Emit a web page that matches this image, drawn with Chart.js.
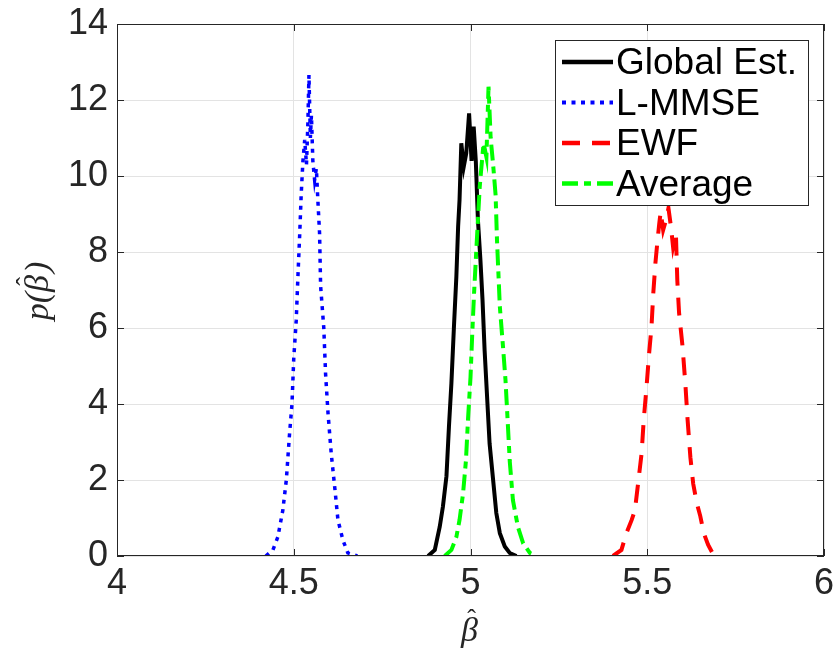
<!DOCTYPE html>
<html>
<head>
<meta charset="utf-8">
<script src="https://cdn.jsdelivr.net/npm/chart.js@4.4.0/dist/chart.umd.min.js"></script>
<style>
  body { margin: 0; background: #fff; }
</style>
</head>
<body>
<canvas id="myChart" width="835" height="652"></canvas>
<script>
// Series (beta-hat, density)
globalX = [4.880, 4.899, 4.913, 4.922, 4.932, 4.939, 4.946, 4.953, 4.960, 4.965, 4.969, 4.974, 4.981, 4.988, 4.996, 5.003, 5.009, 5.015, 5.021, 5.028, 5.034, 5.040, 5.048, 5.054, 5.064, 5.073, 5.083, 5.097, 5.111, 5.130];
globalY = [0, 0.16, 0.77, 1.3, 2.1, 3.4, 4.55, 6.0, 7.35, 8.67, 9.37, 10.86, 10.25, 10.6, 11.65, 10.4, 11.3, 10.4, 8.84, 7.8, 6.74, 5.4, 4.0, 2.96, 2.0, 1.13, 0.6, 0.25, 0.08, 0];

lmmseX = [4.421, 4.441, 4.455, 4.469, 4.479, 4.488, 4.495, 4.500, 4.507, 4.512, 4.517, 4.521, 4.526, 4.531, 4.536, 4.540, 4.543, 4.547, 4.550, 4.554, 4.559, 4.564, 4.568, 4.573, 4.576, 4.585, 4.590, 4.597, 4.606, 4.616, 4.625, 4.639, 4.653, 4.680];
lmmseY = [0, 0.16, 0.5, 1.2, 2.0, 3.2, 4.0, 5.2, 6.2, 7.4, 8.5, 9.5, 10.4, 10.95, 10.3, 11.4, 12.66, 11.0, 11.6, 10.4, 9.9, 10.2, 9.4, 8.5, 7.1, 6.0, 4.8, 3.75, 2.7, 1.8, 0.95, 0.42, 0.08, 0];

ewfX = [5.403, 5.427, 5.441, 5.456, 5.465, 5.474, 5.484, 5.490, 5.498, 5.505, 5.512, 5.517, 5.523, 5.529, 5.534, 5.538, 5.545, 5.553, 5.560, 5.567, 5.573, 5.581, 5.585, 5.590, 5.600, 5.608, 5.614, 5.622, 5.630, 5.640, 5.650, 5.660, 5.672, 5.686];
ewfY = [0, 0.16, 0.6, 0.95, 1.2, 1.9, 2.7, 3.58, 4.45, 5.3, 6.03, 6.9, 7.7, 8.3, 8.75, 9.06, 8.58, 8.84, 9.15, 8.67, 8.14, 8.5, 7.26, 6.4, 5.5, 4.5, 3.6, 2.6, 1.9, 1.4, 1.05, 0.6, 0.3, 0.05];

avgX = [4.927, 4.946, 4.960, 4.969, 4.979, 4.987, 4.993, 5.000, 5.005, 5.010, 5.016, 5.021, 5.026, 5.031, 5.037, 5.045, 5.051, 5.057, 5.064, 5.071, 5.075, 5.083, 5.092, 5.099, 5.105, 5.111, 5.120, 5.134, 5.149, 5.168, 5.185];
avgY = [0, 0.16, 0.5, 0.95, 1.65, 2.5, 3.6, 4.7, 5.86, 6.9, 7.97, 8.84, 9.7, 10.25, 10.86, 10.5, 12.35, 11.0, 10.3, 9.5, 8.3, 6.56, 5.5, 4.63, 3.58, 2.5, 1.47, 0.77, 0.33, 0.08, 0];

seriesNames = ['Global Est.', 'L-MMSE', 'EWF', 'Average'];
xTicks = [4, 4.5, 5, 5.5, 6];
yTicks = [0, 2, 4, 6, 8, 10, 12, 14];

function pts(xs, ys) {
  var out = [];
  for (var i = 0; i < xs.length; i++) out.push({x: xs[i], y: ys[i]});
  return out;
}

const AXIS_COLOR = '#262626';
const SERIF = 'italic 34px "Liberation Serif", "DejaVu Serif", serif';

// draws beta with a hat starting at x (left aligned), returns advance width
function betaHat(ctx, x, y) {
  var w = ctx.measureText('\u03B2').width;
  ctx.fillText('\u03B2', x, y);
  ctx.save();
  ctx.font = '26px "Liberation Serif", "DejaVu Serif", serif';
  ctx.textAlign = 'center';
  ctx.fillText('\u02C6', x + w * 0.62, y - 14);
  ctx.restore();
  return w;
}

// box, inward ticks, axis labels and legend, MATLAB style
const matlabPlugin = {
  id: 'matlab',
  afterDatasetsDraw(chart) {
    const ctx = chart.ctx;
    const a = chart.chartArea;
    const xs = chart.scales.x, ys = chart.scales.y;
    ctx.save();
    ctx.strokeStyle = AXIS_COLOR;
    ctx.lineWidth = 1;
    ctx.strokeRect(a.left + 0.5, a.top + 0.5, a.right - a.left - 1, a.bottom - a.top - 1);
    ctx.beginPath();
    xTicks.forEach(function(v) {
      var px = Math.round(xs.getPixelForValue(v)) + 0.5;
      ctx.moveTo(px, a.bottom); ctx.lineTo(px, a.bottom - 7);
      ctx.moveTo(px, a.top); ctx.lineTo(px, a.top + 7);
    });
    yTicks.forEach(function(v) {
      var py = Math.round(ys.getPixelForValue(v)) + 0.5;
      ctx.moveTo(a.left, py); ctx.lineTo(a.left + 7, py);
      ctx.moveTo(a.right, py); ctx.lineTo(a.right - 7, py);
    });
    ctx.stroke();

    // axis titles
    ctx.fillStyle = AXIS_COLOR;
    ctx.font = SERIF;
    ctx.textAlign = 'left';
    ctx.textBaseline = 'alphabetic';
    betaHat(ctx, 461, 641);

    ctx.save();
    ctx.translate(48, 292);
    ctx.rotate(-Math.PI / 2);
    var w1 = ctx.measureText('p(').width;
    var wb = ctx.measureText('\u03B2').width;
    var w2 = ctx.measureText(')').width;
    var x0 = -(w1 + wb + w2) / 2;
    ctx.fillText('p(', x0, 0);
    betaHat(ctx, x0 + w1, 0);
    ctx.fillText(')', x0 + w1 + wb + 2, 0);
    ctx.restore();

    // legend
    const lx = 555, ly = 40, lw = 253, lh = 165;
    ctx.fillStyle = '#ffffff';
    ctx.fillRect(lx, ly, lw, lh);
    ctx.strokeStyle = AXIS_COLOR;
    ctx.lineWidth = 1;
    ctx.strokeRect(lx + 0.5, ly + 0.5, lw, lh);
    ctx.font = '37px "Liberation Sans", Arial, sans-serif';
    seriesNames.forEach(function(name, i) {
      var ds = chart.data.datasets.find(function(d) { return d.label === name; });
      var cy = 62 + i * 40.5;
      ctx.beginPath();
      ctx.strokeStyle = ds.borderColor;
      ctx.lineWidth = ds.borderWidth + 0.5;
      ctx.setLineDash(ds.borderDash || []);
      ctx.moveTo(562, cy);
      ctx.lineTo(613, cy);
      ctx.stroke();
      ctx.setLineDash([]);
      ctx.fillStyle = '#000000';
      ctx.fillText(name, 616, cy + 12);
    });
    ctx.restore();
  }
};

const data = {
  datasets: [
    {
      label: 'Global Est.',
      data: pts(globalX, globalY),
      borderColor: '#000000',
      borderWidth: 4,
      order: 4
    },
    {
      label: 'L-MMSE',
      data: pts(lmmseX, lmmseY),
      borderColor: '#0000ff',
      borderWidth: 3.5,
      borderDash: [4, 5.5],
      order: 3
    },
    {
      label: 'EWF',
      data: pts(ewfX, ewfY),
      borderColor: '#ff0000',
      borderWidth: 4,
      borderDash: [18, 12],
      order: 2
    },
    {
      label: 'Average',
      data: pts(avgX, avgY),
      borderColor: '#00ff00',
      borderWidth: 4,
      borderDash: [16, 6, 7, 6],
      order: 1
    }
  ]
};

const tickFont = { family: '"Liberation Sans", Arial, sans-serif', size: 36 };

const config = {
  type: 'line',
  data: data,
  options: {
    responsive: false,
    animation: false,
    devicePixelRatio: 1,
    layout: { padding: { top: 24, right: 11, left: 0, bottom: 0 } },
    elements: { point: { radius: 0 }, line: { tension: 0, fill: false } },
    plugins: {
      legend: { display: false },
      tooltip: { enabled: false }
    },
    scales: {
      x: {
        type: 'linear',
        min: 4, max: 6,
        afterFit: function(s) { s.height = 96; s.paddingRight = 0; s.paddingLeft = 0; },
        afterBuildTicks: function(s) { s.ticks = xTicks.map(function(v) { return {value: v}; }); },
        grid: { color: '#e3e3e3', drawTicks: false },
        border: { display: false },
        ticks: { color: AXIS_COLOR, font: tickFont, padding: 6, maxRotation: 0, callback: function(v) { return String(v); } }
      },
      y: {
        min: 0, max: 14,
        afterFit: function(s) { s.width = 117; s.paddingTop = 0; s.paddingBottom = 0; },
        afterBuildTicks: function(s) { s.ticks = yTicks.map(function(v) { return {value: v}; }); },
        grid: { color: '#e3e3e3', drawTicks: false },
        border: { display: false },
        ticks: { color: AXIS_COLOR, font: tickFont, padding: 9, callback: function(v) { return String(v); } }
      }
    }
  },
  plugins: [matlabPlugin]
};

const myChart = new Chart(document.getElementById('myChart'), config);
</script>
</body>
</html>
